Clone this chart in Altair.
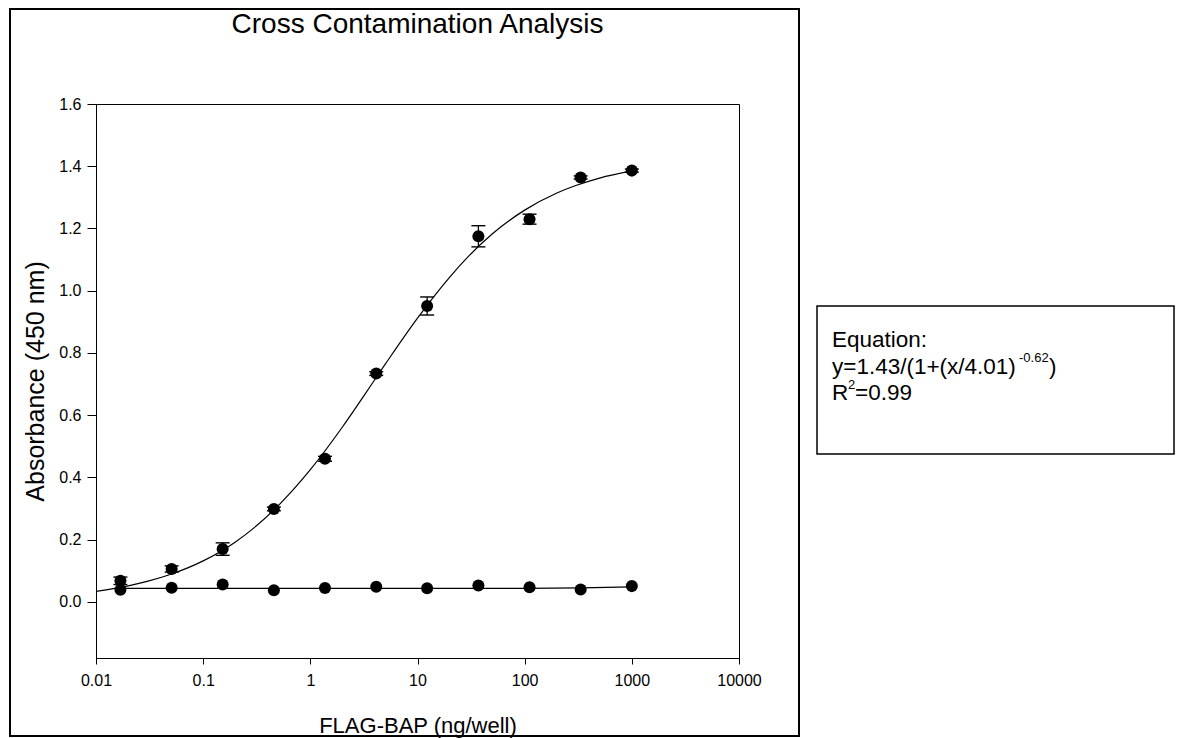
import altair as alt
import pandas as pd

# ---- data ----
conc = [0.0169, 0.0508, 0.152, 0.457, 1.37, 4.12, 12.3, 37.0, 111.0, 333.0, 1000.0]
signal = [0.068, 0.106, 0.170, 0.299, 0.460, 0.734, 0.951, 1.175, 1.230, 1.364, 1.386]
signal_err = [0.012, 0.010, 0.020, 0.006, 0.008, 0.006, 0.029, 0.034, 0.016, 0.005, 0.005]
background = [0.039, 0.046, 0.056, 0.038, 0.045, 0.049, 0.044, 0.053, 0.047, 0.040, 0.051]

fit_x = [0.01, 0.02, 0.03, 0.05, 0.1, 0.2, 0.3, 0.5, 1, 2, 3, 5, 10, 20, 30, 50,
         100, 200, 300, 500, 1000]
fit_y = [0.034, 0.052, 0.066, 0.089, 0.132, 0.193, 0.239, 0.309, 0.425, 0.563, 0.651,
         0.764, 0.912, 1.044, 1.111, 1.183, 1.259, 1.314, 1.338, 1.362, 1.385]

bg_fit_x = [0.0169, 1, 10, 100, 333, 1000]
bg_fit_y = [0.0435, 0.0435, 0.0436, 0.0440, 0.0452, 0.0485]

x_ticks = [0.01, 0.1, 1, 10, 100, 1000, 10000]
y_ticks = [0.0, 0.2, 0.4, 0.6, 0.8, 1.0, 1.2, 1.4, 1.6]

title_text = "Cross Contamination Analysis"
x_title = "FLAG-BAP (ng/well)"
y_title = "Absorbance (450 nm)"

FONT = "Liberation Sans"

# ---- tables ----
pts = pd.DataFrame({"x": conc, "y": signal, "e": signal_err})
pts["lo"] = pts["y"] - pts["e"]
pts["hi"] = pts["y"] + pts["e"]
bg = pd.DataFrame({"x": conc, "y": background})
fit = pd.DataFrame({"x": fit_x, "y": fit_y})
bgfit = pd.DataFrame({"x": bg_fit_x, "y": bg_fit_y})
one = pd.DataFrame({"k": [0]})

W, H = 643, 554
PAD_L, PAD_T = 88, 96

xscale = alt.Scale(type="log", domain=[0.01, 10000], nice=False)
yscale = alt.Scale(domain=[-0.18, 1.6], nice=False, zero=False)

xaxis = alt.Axis(values=x_ticks, format="~g", title=x_title, grid=False,
                 tickSize=6, labelPadding=8, labelFontSize=16, labelFont=FONT,
                 titleFont=FONT, titleFontSize=22, titleFontWeight="normal",
                 titleBaseline="middle", titleY=67, titleColor="black",
                 labelColor="black", domainColor="black", tickColor="black",
                 labelFlush=False, labelOverlap=False)
yaxis = alt.Axis(values=y_ticks, format=".1f", title=y_title, grid=False,
                 tickSize=9, labelPadding=6, labelFontSize=16, labelFont=FONT,
                 titleFont=FONT, titleFontSize=25, titleFontWeight="normal",
                 titleBaseline="middle", titleX=-61, titleY=H / 2, titleColor="black",
                 labelColor="black", domainColor="black", tickColor="black",
                 labelFlush=False, labelOverlap=False)

X = alt.X("x:Q", scale=xscale, axis=xaxis)
Y = alt.Y("y:Q", scale=yscale, axis=yaxis)

curve = alt.Chart(fit).mark_line(color="black", strokeWidth=1.2, interpolate="monotone").encode(x=X, y=Y)
bgline = alt.Chart(bgfit).mark_line(color="black", strokeWidth=1.2).encode(x=X, y=Y)

err_rule = alt.Chart(pts).mark_rule(color="black", strokeWidth=1.3).encode(
    x=alt.X("x:Q", scale=xscale), y=alt.Y("lo:Q", scale=yscale), y2="hi:Q")
err_lo = alt.Chart(pts).mark_tick(color="black", orient="horizontal", size=14, thickness=1.4, opacity=1).encode(
    x=alt.X("x:Q", scale=xscale), y=alt.Y("lo:Q", scale=yscale))
err_hi = alt.Chart(pts).mark_tick(color="black", orient="horizontal", size=14, thickness=1.4, opacity=1).encode(
    x=alt.X("x:Q", scale=xscale), y=alt.Y("hi:Q", scale=yscale))

dots = alt.Chart(pts).mark_circle(color="black", size=145, opacity=1).encode(x=X, y=Y)
bgdots = alt.Chart(bg).mark_circle(color="black", size=145, opacity=1).encode(x=X, y=Y)

# ---- decorations (page-pixel positions relative to plot origin) ----
def px(v):
    return v - PAD_L - 8

def py(v):
    return v - PAD_T - 8

outer = alt.Chart(one).mark_rect(fillOpacity=0, stroke="black", strokeWidth=2).encode(
    x=alt.value(px(10)), x2=alt.value(px(799)), y=alt.value(py(9)), y2=alt.value(py(736)))
eqbox = alt.Chart(one).mark_rect(fillOpacity=0, stroke="black", strokeWidth=1.5).encode(
    x=alt.value(px(817)), x2=alt.value(px(1174)), y=alt.value(py(306)), y2=alt.value(py(454)))

def txt(s, x, y, size, align="left"):
    return alt.Chart(one).mark_text(text=s, font=FONT, fontSize=size, color="black",
                                    align=align, baseline="middle").encode(
        x=alt.value(px(x)), y=alt.value(py(y)))

title = txt(title_text, 417.5, 25, 28, align="center")
eq1 = txt("Equation:", 832, 340, 22.5)
eq2a = txt("y=1.43/(1+(x/4.01)", 832, 367, 22.5)
eq2b = txt("-0.62", 1019, 358, 13)
eq2c = txt(")", 1049, 367, 22.5)
eq3a = txt("R", 832, 393, 22.5)
eq3b = txt("2", 848, 385, 13)
eq3c = txt("=0.99", 855, 393, 22.5)

chart = alt.layer(
    outer, eqbox, curve, bgline, err_rule, err_lo, err_hi, dots, bgdots,
    title, eq1, eq2a, eq2b, eq2c, eq3a, eq3b, eq3c
).properties(
    width=W, height=H,
    autosize=alt.AutoSizeParams(type="none"),
    padding={"left": PAD_L, "top": PAD_T, "right": 1168 - PAD_L - W, "bottom": 730 - PAD_T - H},
    background="white",
).configure_view(stroke="black", strokeWidth=1)

chart.save("out.html", embed_options={"renderer": "svg", "actions": False})
